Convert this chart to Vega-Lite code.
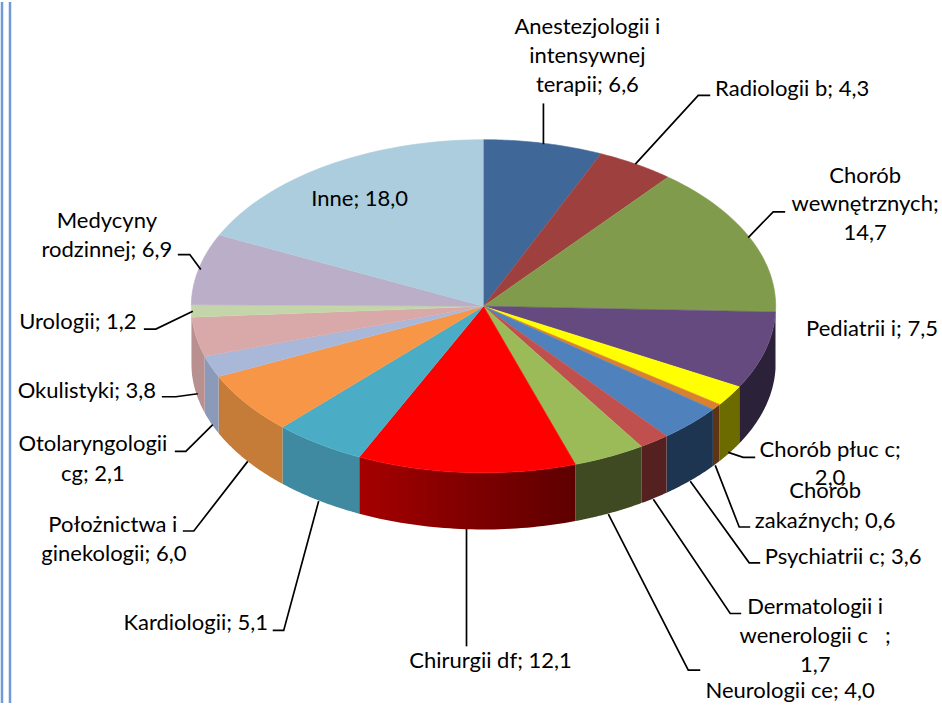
{"$schema":"https://vega.github.io/schema/vega-lite/v6.json","width":942,"height":705,"autosize":{"type":"fit","contains":"padding"},"padding":0,"background":"#ffffff","view":{"stroke":null},
"config":{"axis":{"disable":true}},
"datasets":{
"slices":[{"rank":1,"name":"Anestezjologii i intensywnej terapii","value":6.6},{"rank":2,"name":"Radiologii b","value":4.3},{"rank":3,"name":"Chorób wewnętrznych","value":14.7},{"rank":4,"name":"Pediatrii i","value":7.5},{"rank":5,"name":"Chorób płuc c","value":2.0},{"rank":6,"name":"Chorób zakaźnych","value":0.6},{"rank":7,"name":"Psychiatrii c","value":3.6},{"rank":8,"name":"Dermatologii i wenerologii c","value":1.7},{"rank":9,"name":"Neurologii ce","value":4.0},{"rank":10,"name":"Chirurgii df","value":12.1},{"rank":11,"name":"Kardiologii","value":5.1},{"rank":12,"name":"Położnictwa i ginekologii","value":6.0},{"rank":13,"name":"Otolaryngologii cg","value":2.1},{"rank":14,"name":"Okulistyki","value":3.8},{"rank":15,"name":"Urologii","value":1.2},{"rank":16,"name":"Medycyny rodzinnej","value":6.9},{"rank":17,"name":"Inne","value":18.0}],
"labels":[{"t":"Anestezjologii i","x":587,"y":25},{"t":"intensywnej","x":587,"y":54},{"t":"terapii; 6,6","x":587,"y":83},{"t":"Radiologii b; 4,3","x":792,"y":87},{"t":"Chorób","x":865,"y":175},{"t":"wewnętrznych;","x":865,"y":203},{"t":"14,7","x":865,"y":232},{"t":"Pediatrii i; 7,5","x":872,"y":329},{"t":"Chorób płuc c;","x":830,"y":451},{"t":"2,0","x":830,"y":479},{"t":"Chorób","x":825,"y":492},{"t":"zakaźnych; 0,6","x":825,"y":522},{"t":"Psychiatrii c; 3,6","x":843,"y":558},{"t":"Dermatologii i","x":815,"y":608},{"t":"wenerologii c\u00a0\u00a0\u00a0;","x":815,"y":638},{"t":"1,7","x":815,"y":667},{"t":"Neurologii ce; 4,0","x":790,"y":693},{"t":"Chirurgii df; 12,1","x":490,"y":663},{"t":"Kardiologii; 5,1","x":195,"y":625},{"t":"Położnictwa i","x":112,"y":526},{"t":"ginekologii; 6,0","x":113,"y":555},{"t":"Otolaryngologii","x":92,"y":445},{"t":"cg; 2,1","x":92,"y":475},{"t":"Okulistyki; 3,8","x":86,"y":391},{"t":"Urologii; 1,2","x":77,"y":322},{"t":"Medycyny","x":106,"y":220},{"t":"rodzinnej; 6,9","x":106,"y":249},{"t":"Inne; 18,0","x":359,"y":198}],
"leaders":[{"id":"a","o":1,"x":543,"y":143},{"id":"a","o":2,"x":543,"y":102},{"id":"b","o":1,"x":635,"y":163},{"id":"b","o":2,"x":698,"y":94},{"id":"b","o":3,"x":710,"y":94},{"id":"c","o":1,"x":748,"y":237},{"id":"c","o":2,"x":773,"y":211},{"id":"c","o":3,"x":785,"y":211},{"id":"d","o":1,"x":728,"y":453},{"id":"d","o":2,"x":743,"y":458},{"id":"d","o":3,"x":755,"y":458},{"id":"e","o":1,"x":715,"y":466},{"id":"e","o":2,"x":739,"y":528},{"id":"e","o":3,"x":750,"y":528},{"id":"f","o":1,"x":690,"y":482},{"id":"f","o":2,"x":749,"y":564},{"id":"f","o":3,"x":760,"y":564},{"id":"g","o":1,"x":653,"y":500},{"id":"g","o":2,"x":730,"y":615},{"id":"g","o":3,"x":741,"y":615},{"id":"h","o":1,"x":608,"y":515},{"id":"h","o":2,"x":688,"y":672},{"id":"h","o":3,"x":700,"y":672},{"id":"i","o":1,"x":466,"y":530},{"id":"i","o":2,"x":466,"y":648},{"id":"j","o":1,"x":318,"y":502},{"id":"j","o":2,"x":283,"y":632},{"id":"j","o":3,"x":272,"y":632},{"id":"k","o":1,"x":247,"y":462},{"id":"k","o":2,"x":193,"y":532},{"id":"k","o":3,"x":182,"y":532},{"id":"l","o":1,"x":212,"y":425},{"id":"l","o":2,"x":185,"y":452},{"id":"l","o":3,"x":174,"y":452},{"id":"m","o":1,"x":197,"y":394},{"id":"m","o":2,"x":175,"y":397},{"id":"m","o":3,"x":161,"y":397},{"id":"n","o":1,"x":192,"y":311},{"id":"n","o":2,"x":155,"y":329},{"id":"n","o":3,"x":143,"y":329},{"id":"o","o":1,"x":200,"y":269},{"id":"o","o":2,"x":189,"y":254},{"id":"o","o":3,"x":177,"y":254}],
"edges":[{"x":1},{"x":9}]
},
"resolve":{"scale":{"fill":"independent","stroke":"independent"}},
"layer":[
{"data":{"name":"edges"},"mark":{"type":"rule","stroke":"#6f9bd8","strokeWidth":2.5},"encoding":{"x":{"field":"x","type":"quantitative","scale":{"domain":[0,942],"nice":false,"zero":false},"axis":null}}},
{"data":{"name":"slices"},
"transform":[{"window":[{"op":"sum","field":"value","as":"cum"}],"sort":[{"field":"rank"}]},{"joinaggregate":[{"op":"sum","field":"value","as":"total"}]},{"filter":"datum.name!=='Chirurgii df'"},
{"calculate":"max(2*PI*(datum.cum-datum.value)/datum.total,PI/2)","as":"b0"},{"calculate":"min(2*PI*datum.cum/datum.total,3*PI/2)","as":"b1"},{"filter":"datum.b1>datum.b0"},
{"calculate":"sequence(0,41)","as":"k"},{"flatten":["k"]},{"calculate":"datum.b0+(datum.b1-datum.b0)*datum.k/40","as":"a"},{"calculate":"483+292.5*sin(datum.a)","as":"px"},{"calculate":"306-167.5*cos(datum.a)","as":"py"},{"calculate":"datum.py+57","as":"pb"}],
"mark":{"type":"area","interpolate":"linear"},
"encoding":{"x":{"field":"px","type":"quantitative","scale":{"domain":[0,942],"nice":false,"zero":false},"axis":null},"y":{"field":"py","type":"quantitative","scale":{"domain":[705,0],"nice":false,"zero":false},"axis":null},"y2":{"field":"pb"},
"fill":{"field":"name","type":"nominal","legend":null,"scale":{"domain":["Pediatrii i","Chorób płuc c","Chorób zakaźnych","Psychiatrii c","Dermatologii i wenerologii c","Neurologii ce","Kardiologii","Położnictwa i ginekologii","Otolaryngologii cg","Okulistyki","Urologii"],
"range":["#2b2138","#6b6b00","#5e3510","#1d3550","#552020","#3f4a22","#3f8aa0","#c47c38","#8a9ab8","#b89090","#a9b884"]}}}},
{"data":{"name":"slices"},
"transform":[{"window":[{"op":"sum","field":"value","as":"cum"}],"sort":[{"field":"rank"}]},{"joinaggregate":[{"op":"sum","field":"value","as":"total"}]},{"filter":"datum.name==='Chirurgii df'"},
{"calculate":"2*PI*(datum.cum-datum.value)/datum.total","as":"b0"},{"calculate":"2*PI*datum.cum/datum.total","as":"b1"},
{"calculate":"sequence(0,41)","as":"k"},{"flatten":["k"]},{"calculate":"datum.b0+(datum.b1-datum.b0)*datum.k/40","as":"a"},{"calculate":"483+292.5*sin(datum.a)","as":"px"},{"calculate":"306-167.5*cos(datum.a)","as":"py"},{"calculate":"datum.py+57","as":"pb"}],
"mark":{"type":"area","interpolate":"linear","fill":{"gradient":"linear","x1":0,"x2":1,"y1":0,"y2":0,"stops":[{"offset":0,"color":"#a60000"},{"offset":0.5,"color":"#800000"},{"offset":1,"color":"#5e0000"}]}},
"encoding":{"x":{"field":"px","type":"quantitative","scale":{"domain":[0,942],"nice":false,"zero":false},"axis":null},"y":{"field":"py","type":"quantitative","scale":{"domain":[705,0],"nice":false,"zero":false},"axis":null},"y2":{"field":"pb"}}},
{"data":{"name":"slices"},
"transform":[{"window":[{"op":"sum","field":"value","as":"cum"}],"sort":[{"field":"rank"}]},{"joinaggregate":[{"op":"sum","field":"value","as":"total"}]},
{"calculate":"2*PI*(datum.cum-datum.value)/datum.total","as":"a0"},{"calculate":"2*PI*datum.cum/datum.total","as":"a1"},
{"calculate":"sequence(-1,41)","as":"k"},{"flatten":["k"]},{"calculate":"datum.a0+(datum.a1-datum.a0)*max(datum.k,0)/40","as":"a"},{"calculate":"datum.k<0?483:483+292.5*sin(datum.a)","as":"px"},{"calculate":"datum.k<0?306:306-167.5*cos(datum.a)","as":"py"}],
"mark":{"type":"line","strokeWidth":0.6},
"encoding":{"x":{"field":"px","type":"quantitative","scale":{"domain":[0,942],"nice":false,"zero":false},"axis":null},"y":{"field":"py","type":"quantitative","scale":{"domain":[705,0],"nice":false,"zero":false},"axis":null},"order":{"field":"k"},
"fill":{"field":"name","type":"nominal","legend":null,"scale":{"domain":["Anestezjologii i intensywnej terapii","Radiologii b","Chorób wewnętrznych","Pediatrii i","Chorób płuc c","Chorób zakaźnych","Psychiatrii c","Dermatologii i wenerologii c","Neurologii ce","Chirurgii df","Kardiologii","Położnictwa i ginekologii","Otolaryngologii cg","Okulistyki","Urologii","Medycyny rodzinnej","Inne"],"range":["#3f6899","#9e413e","#7f9b4b","#654a7f","#ffff00","#d9812f","#4f81bd","#c0504d","#9bbb59","#ff0000","#4bacc6","#f79646","#a9b8d9","#d9a8a8","#c4d5a9","#baaec9","#abcddd"]}},
"stroke":{"field":"name","type":"nominal","legend":null,"scale":{"domain":["Anestezjologii i intensywnej terapii","Radiologii b","Chorób wewnętrznych","Pediatrii i","Chorób płuc c","Chorób zakaźnych","Psychiatrii c","Dermatologii i wenerologii c","Neurologii ce","Chirurgii df","Kardiologii","Położnictwa i ginekologii","Otolaryngologii cg","Okulistyki","Urologii","Medycyny rodzinnej","Inne"],"range":["#3f6899","#9e413e","#7f9b4b","#654a7f","#ffff00","#d9812f","#4f81bd","#c0504d","#9bbb59","#ff0000","#4bacc6","#f79646","#a9b8d9","#d9a8a8","#c4d5a9","#baaec9","#abcddd"]}}}},
{"data":{"name":"leaders"},"mark":{"type":"line","stroke":"#000000","strokeWidth":1.7},"encoding":{"x":{"field":"x","type":"quantitative","scale":{"domain":[0,942],"nice":false,"zero":false},"axis":null},"y":{"field":"y","type":"quantitative","scale":{"domain":[705,0],"nice":false,"zero":false},"axis":null},"detail":{"field":"id"},"order":{"field":"o"}}},
{"data":{"name":"labels"},"mark":{"type":"text","font":"Lato","fontSize":22,"color":"#000000","align":"center","baseline":"middle"},"encoding":{"x":{"field":"x","type":"quantitative","scale":{"domain":[0,942],"nice":false,"zero":false},"axis":null},"y":{"field":"y","type":"quantitative","scale":{"domain":[705,0],"nice":false,"zero":false},"axis":null},"text":{"field":"t"}}}
]}
